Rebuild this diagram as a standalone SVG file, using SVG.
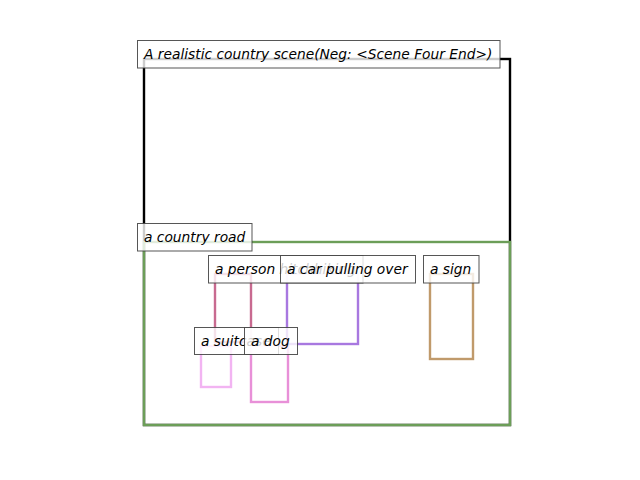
<svg xmlns="http://www.w3.org/2000/svg" width="640" height="480" viewBox="0 0 640 480">
<style>
.r{fill:none;stroke-width:2.4}
.lb rect{fill:#fff;fill-opacity:0.8;stroke:#444;stroke-opacity:0.9;stroke-width:1}
.lb text{font-family:"DejaVu Sans",sans-serif;font-style:italic;font-size:13.8px;fill:#000}
</style>
<rect width="640" height="480" fill="#fff"/>
<g id="connectors"></g>
<g id="boxes">
<rect id="scene-box" class="r" x="144" y="59" width="366" height="366" stroke="#000"/>
<rect id="road-box" class="r" x="144" y="242" width="366" height="183" stroke="#6c9e58"/>
<rect id="person-box" class="r" x="215" y="274" width="36" height="68" stroke="#c86a90"/>
<rect id="car-box" class="r" x="287" y="274" width="71" height="70" stroke="#a878e0"/>
<rect id="sign-box" class="r" x="430" y="274" width="43" height="85" stroke="#c09a6b"/>
<rect id="suitcase-box" class="r" x="201" y="346" width="30" height="41" stroke="#f2b4f2"/>
<rect id="dog-box" class="r" x="251" y="346" width="37" height="56" stroke="#e890d8"/>
</g>
<g id="scene" class="lb"><rect x="137.5" y="40.5" width="362.5" height="27.5"/><text x="144" y="59">A realistic country scene(Neg: &lt;Scene Four End&gt;)</text></g>
<g id="road" class="lb"><rect x="137.5" y="223.5" width="114.5" height="27.5"/><text x="144" y="242">a country road</text></g>
<g id="person" class="lb"><rect x="208.5" y="255.5" width="154.5" height="27.5"/><text x="215" y="274">a person hitchhiking</text></g>
<g id="car" class="lb"><rect x="280.5" y="255.5" width="135" height="27.5"/><text x="287" y="274">a car pulling over</text></g>
<g id="sign" class="lb"><rect x="423.5" y="255.5" width="55.5" height="27.5"/><text x="430" y="274">a sign</text></g>
<g id="suitcase" class="lb"><rect x="194.5" y="327.5" width="84" height="27"/><text x="201" y="346">a suitcase</text></g>
<g id="dog" class="lb"><rect x="244.5" y="327.5" width="53" height="27"/><text x="251" y="346">a dog</text></g>
</svg>
